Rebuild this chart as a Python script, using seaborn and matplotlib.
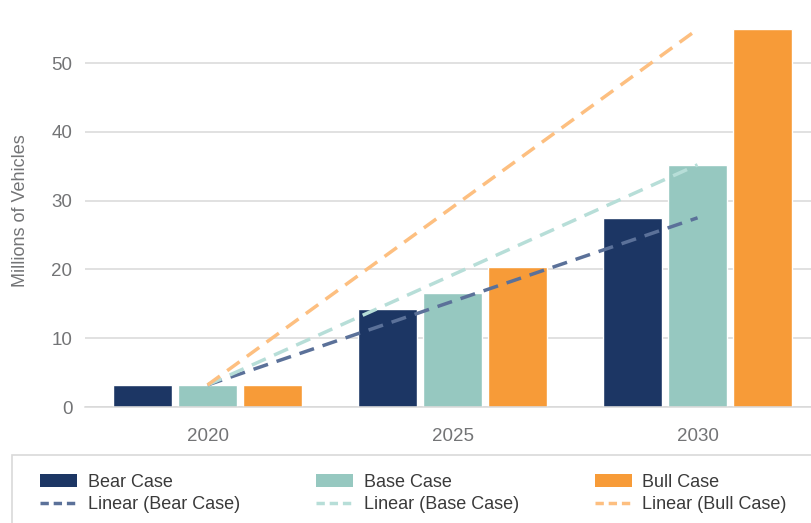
import matplotlib
matplotlib.use("Agg")
import matplotlib.pyplot as plt
from matplotlib.patches import Patch, Rectangle
from matplotlib.lines import Line2D
import seaborn as sns
import pandas as pd

# ---- data ----
years = ["2020", "2025", "2030"]
cases = ["Bear Case", "Base Case", "Bull Case"]
bear = [3.2, 14.2, 27.5]
base = [3.2, 16.6, 35.2]
bull = [3.2, 20.4, 54.9]
trend_labels = ["Linear (Bear Case)", "Linear (Base Case)", "Linear (Bull Case)"]
y_ticks = [0, 10, 20, 30, 40, 50]
y_label = "Millions of Vehicles"

bar_colors = ["#1C3664", "#96C8C0", "#F79B38"]
trend_colors = ["#5B7199", "#B7DED8", "#FDBF80"]

sns.set_style("white")
plt.rcParams["font.family"] = ["Liberation Sans", "DejaVu Sans"]

df = pd.DataFrame({
    "Year": years * 3,
    "Case": [c for c in cases for _ in years],
    "Value": bear + base + bull,
})

fig = plt.figure(figsize=(8.11, 5.23), dpi=100)
ax = fig.add_axes([85 / 811, 1 - 407 / 523, (811 - 85) / 811, (407 - 28.6) / 523])

sns.barplot(data=df, x="Year", y="Value", hue="Case", hue_order=cases,
            palette=bar_colors, width=0.8, gap=0.1, saturation=1,
            legend=False, ax=ax, zorder=2)

series = [bear, base, bull]
for vals, col in zip(series, trend_colors):
    ax.plot([0, len(vals) - 1], [vals[0], vals[-1]], color=col, lw=2.5,
            dashes=(4.4, 2.6), solid_capstyle="butt", dash_capstyle="butt", zorder=3)

ax.set_xlim(-0.5, 2.463)
ax.set_ylim(0, 55)
ax.set_yticks(y_ticks)
ax.set_yticklabels([str(t) for t in y_ticks])
ax.yaxis.grid(True, color="#D9D9D9", lw=1.1, zorder=0)
ax.set_axisbelow(True)
for s in ["top", "right", "left"]:
    ax.spines[s].set_visible(False)
ax.spines["bottom"].set_color("#D9D9D9")
ax.spines["bottom"].set_linewidth(1.1)
ax.tick_params(axis="both", length=0, labelsize=13.5, labelcolor="#737476")
ax.tick_params(axis="y", pad=9)
ax.tick_params(axis="x", pad=15)
ax.set_xlabel("")
ax.set_ylabel(y_label, fontsize=13, color="#737476")
ax.yaxis.set_label_coords(-0.077, 0.52)

# legend frame
fig.patches.append(Rectangle((12 / 811, -0.05), 1.0, (1 - 455 / 523) + 0.05,
                             transform=fig.transFigure, fill=False,
                             edgecolor="#D9D9D9", lw=1.2))

handles, labels = [], []
for c, tl, bc, tc in zip(cases, trend_labels, bar_colors, trend_colors):
    handles.append(Patch(facecolor=bc, edgecolor="none"))
    labels.append(c)
    handles.append(Line2D([], [], color=tc, lw=2.5, dashes=(2.4, 1.4)))
    labels.append(tl)

fig.legend(handles, labels, ncol=3, loc="upper left",
           bbox_to_anchor=(40 / 811, 1 - 474 / 523), bbox_transform=fig.transFigure,
           frameon=False, fontsize=13, handlelength=2.05, handleheight=0.75,
           handletextpad=0.6, columnspacing=4.2, labelspacing=0.3,
           borderpad=0, borderaxespad=0, labelcolor="#3A3A3A")

fig.savefig("out.png", dpi=100)
